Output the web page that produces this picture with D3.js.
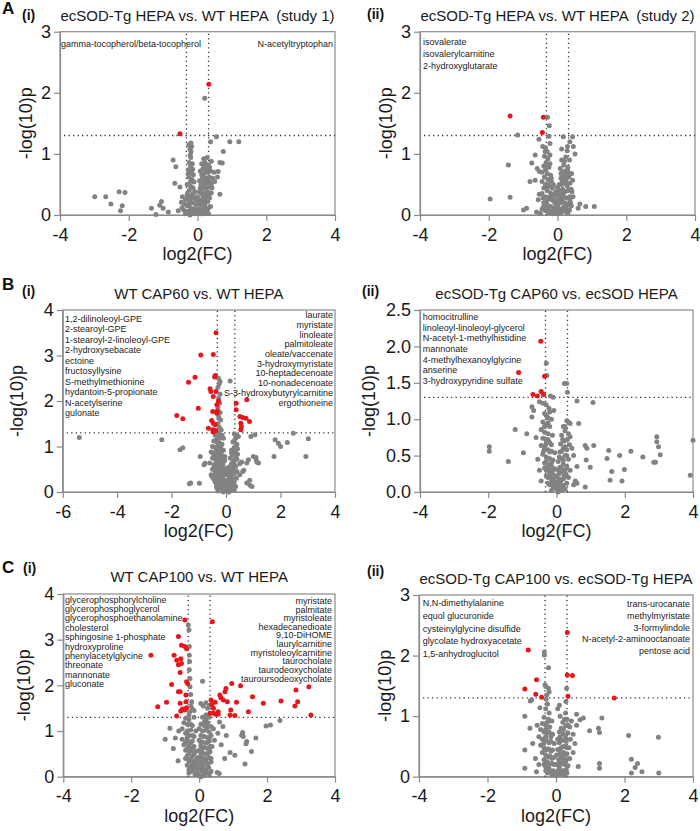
<!DOCTYPE html>
<html><head><meta charset="utf-8">
<script src="https://cdn.jsdelivr.net/npm/d3@7"></script>
<style>body{margin:0;background:#fff}</style>
</head><body>
<script>
// ---------------- DATA ----------------
const titles = ["ecSOD-Tg HEPA vs. WT HEPA  (study 1)","ecSOD-Tg HEPA vs. WT HEPA  (study 2)","WT CAP60 vs. WT HEPA","ecSOD-Tg CAP60 vs. ecSOD HEPA","WT CAP100 vs. WT HEPA","ecSOD-Tg CAP100 vs. ecSOD-Tg HEPA"];
const panelLetters = ["A","","B","","C",""];
const panelSubs = ["(i)","(ii)","(i)","(ii)","(i)","(ii)"];
const xLabel = "log2(FC)";
const yLabel = "-log(10)p";
const xTicks4 = [-4,-2,0,2,4];
const xTicks6 = [-6,-4,-2,0,2,4];
const yTicks3 = [0,1,2,3];
const yTicks4 = [0,1,2,3,4];
const yTicks25 = [0,0.5,1,1.5,2,2.5];
const fcCut = [-0.322, 0.322];
const pCut = 1.301;

const aiGray = [[0.21,1.91],[-0.19,1.18],[-0.17,1.12],[-0.19,1.04],[-0.21,0.98],[0.55,1.28],[0.38,1.2],[0.94,1.2],[1.2,1.2],[0.75,1.04],[0.72,0.85],[0.65,0.86],[-0.71,0.9],[-0.63,0.79],[-0.66,0.52],[-0.51,0.46],[-2.99,0.3],[-2.67,0.3],[-2.52,0.18],[-2.28,0.38],[-2.11,0.37],[-2.19,0.15],[-2.24,0.07],[-1.34,0.11],[-1.21,0.01],[-1.05,0.22],[-1.1,0.16],[-1.0,0.11],[-0.85,0.05],[-0.56,0.07],[-0.47,0.21],[-0.44,0.3],[0.65,0.34],[0.6,0.71],[0.58,0.62],[0.5,0.55],
[-0.25,1.15],[-0.22,1.08],[-0.2,0.94],[-0.24,0.86],[-0.2,0.8],[-0.15,0.84],[-0.27,0.74],[-0.18,0.7],[-0.12,0.66],[-0.25,0.62],[-0.16,0.58],[-0.1,0.54],[-0.3,0.5],[-0.2,0.47],[-0.13,0.44],[-0.24,0.4],[-0.08,0.38],[-0.3,0.34],[-0.18,0.32],[-0.1,0.28],[-0.35,0.25],[-0.22,0.22],[-0.14,0.2],[-0.05,0.17],[-0.3,0.15],[-0.2,0.12],[-0.1,0.1],[-0.4,0.08],[-0.28,0.06],[-0.15,0.04],[-0.05,0.02],[-0.35,0.02],[-0.22,0.0],
[0.0,0.05],[0.05,0.1],[0.02,0.18],[0.08,0.24],[0.0,0.3],[0.05,0.38],[0.1,0.02],[0.15,0.07],[0.2,0.12],[0.25,0.04],[0.3,0.1],[0.32,0.02],[0.12,0.16],[0.22,0.2],[0.3,0.22],[0.16,0.28],[0.26,0.3],[0.35,0.28],
[0.12,0.34],[0.2,0.36],[0.3,0.38],[0.4,0.36],[0.14,0.42],[0.24,0.44],[0.33,0.46],[0.42,0.44],[0.1,0.5],[0.18,0.5],[0.28,0.52],[0.36,0.54],[0.15,0.58],[0.25,0.6],[0.34,0.62],[0.44,0.6],[0.12,0.66],[0.2,0.68],[0.3,0.7],[0.38,0.72],[0.16,0.76],[0.26,0.78],[0.12,0.84],[0.22,0.86],[0.32,0.82],[0.18,0.92],[0.28,0.94],[0.4,0.88],[0.08,0.72],[0.06,0.56],
[-0.3,0.28],[-0.25,0.18],[-0.18,0.08],[-0.08,0.06],[0.02,0.1],[0.08,0.06],[0.18,0.02],[0.28,0.08],[0.22,0.15],[0.1,0.2],[-0.03,0.25],[-0.12,0.35],[-0.2,0.55],[-0.27,0.67],[-0.14,0.75],[0.2,0.25],[0.32,0.33],[0.08,0.44],[0.22,0.56],[0.3,0.6],[0.14,0.63],[0.24,0.72],[0.35,0.78],[0.2,0.8],[-0.38,0.18],[-0.45,0.12],[0.38,0.14],[0.4,0.5],[0.48,0.7],[-0.22,0.28]];
const aiRed = [[0.33,2.14],[-0.51,1.33]];

const aiiGray = [[-0.29,1.6],[-0.24,1.46],[-1.16,1.31],[-0.25,1.29],[0.17,1.28],[0.44,1.28],[0.29,1.12],[-0.43,1.12],[-0.54,1.24],[-0.22,1.17],[-0.36,1.04],[-0.22,0.98],[0.51,1.0],[0.46,1.12],[0.36,1.2],[-1.43,0.82],[-0.75,0.85],[-0.59,0.76],[-0.53,0.71],[-0.65,0.98],[-0.8,0.55],[-0.65,0.57],[-1.96,0.26],[-1.38,0.29],[-0.99,0.08],[-0.9,0.11],[-0.53,0.34],[-0.56,0.25],[-0.61,0.05],[0.65,0.18],[0.6,0.11],[0.82,0.14],[1.07,0.14],[0.36,0.25],[0.44,0.57],[0.27,0.52],[0.41,0.68],
[-0.35,1.1],[-0.3,1.04],[-0.38,0.96],[-0.28,0.92],[-0.33,0.86],[-0.4,0.8],[-0.25,0.78],[-0.35,0.74],[-0.45,0.7],[-0.3,0.68],[-0.2,0.65],[-0.38,0.62],[-0.28,0.58],[-0.45,0.55],[-0.18,0.55],[-0.35,0.5],[-0.25,0.47],[-0.4,0.44],[-0.15,0.44],[-0.3,0.4],[-0.2,0.36],[-0.45,0.35],[-0.1,0.33],[-0.35,0.3],[-0.25,0.26],[-0.15,0.24],[-0.4,0.2],[-0.3,0.17],[-0.2,0.14],[-0.1,0.12],[-0.45,0.1],[-0.35,0.07],[-0.25,0.04],[-0.15,0.02],[-0.05,0.06],[-0.5,0.03],
[0,0.02],[0.05,0.08],[0.0,0.15],[0.08,0.2],[-0.05,0.22],[0.03,0.3],[0.1,0.04],[0.15,0.12],[0.2,0.06],[0.25,0.1],[0.3,0.03],[0.35,0.08],[0.12,0.25],[0.2,0.2],[0.28,0.18],[0.4,0.15],[-0.05,0.38],[0.0,0.45],
[0.1,0.32],[0.18,0.3],[0.26,0.28],[0.35,0.3],[0.45,0.3],[0.08,0.4],[0.15,0.42],[0.22,0.38],[0.3,0.4],[0.4,0.42],[0.12,0.5],[0.2,0.52],[0.28,0.48],[0.36,0.52],[0.1,0.6],[0.18,0.62],[0.25,0.58],[0.33,0.62],[0.15,0.7],[0.22,0.72],[0.08,0.76],[0.18,0.82],[0.3,0.78],[0.12,0.9],[0.24,0.95],[0.35,0.9],[0.28,1.05],[0.12,1.08],
[-0.3,0.1],[-0.2,0.06],[-0.1,0.04],[0.02,0.1],[0.12,0.08],[0.22,0.14],[0.3,0.16],[-0.4,0.14],[-0.32,0.22],[-0.22,0.3],[-0.12,0.28],[-0.02,0.34],[0.06,0.36],[0.16,0.34],[-0.28,0.5],[-0.18,0.6],[-0.32,0.78],[-0.22,0.84],[0.05,0.5],[0.14,0.56],[0.24,0.66],[0.3,0.72],[0.1,0.68],[0.2,0.88],[-0.42,0.28],[0.38,0.2],[0.42,0.38],[-0.12,0.5],[-0.08,0.2],[0.02,0.25]];
const aiiRed = [[-1.38,1.62],[-0.41,1.6],[-0.44,1.35]];

const biGray = [[-5.39,1.2],[-2.36,1.15],[-1.69,0.93],[-1.59,0.97],[-1.35,0.18],[-1.3,0.2],[-0.95,0.78],[-0.81,0.6],[-0.98,0.19],[-0.77,0.63],[-0.52,0.34],[0.15,2.44],[-0.22,2.43],[1.06,1.26],[0.91,1.22],[1.8,1.15],[2.0,1.0],[1.92,1.07],[2.25,1.09],[2.47,1.29],[3.02,1.17],[2.93,0.78],[1.76,0.78],[1.0,0.78],[1.1,0.71],[1.19,0.64],[0.82,0.71],[0.76,0.64],[0.76,0.2],[0.88,0.15],[0.61,0.45],[0.42,0.83],[0.57,0.66],[0.65,0.48],[0.87,0.26],[1.1,0.76],[1.13,0.66],[0.95,0.12],
[-0.28,2.5],[-0.25,2.38],[-0.3,2.3],[-0.22,2.15],[-0.27,2.05],[-0.24,1.95],[-0.3,1.85],[-0.22,1.75],[-0.27,1.65],[-0.2,1.58],[-0.3,1.5],[-0.24,1.42],[-0.18,1.36],[-0.3,1.3],
[-0.4,1.25],[-0.3,1.2],[-0.2,1.22],[-0.1,1.18],[-0.45,1.12],[-0.35,1.1],[-0.25,1.08],[-0.15,1.05],[-0.5,1.0],[-0.4,0.98],[-0.3,0.95],[-0.2,0.96],[-0.1,0.92],[-0.55,0.88],[-0.45,0.86],[-0.35,0.84],[-0.25,0.82],[-0.15,0.8],[-0.05,0.78],[-0.5,0.75],[-0.4,0.72],[-0.3,0.7],[-0.2,0.68],[-0.1,0.66],[-0.6,0.64],[-0.45,0.6],[-0.35,0.58],[-0.25,0.56],[-0.15,0.55],[-0.05,0.52],[-0.5,0.5],[-0.4,0.47],[-0.3,0.45],[-0.2,0.42],[-0.1,0.4],[0.0,0.38],[-0.55,0.38],[-0.45,0.35],[-0.35,0.32],[-0.25,0.3],[-0.15,0.28],[-0.05,0.26],[0.05,0.24],[-0.4,0.22],[-0.3,0.2],[-0.2,0.18],[-0.1,0.16],[0.0,0.14],[0.1,0.12],[-0.35,0.1],[-0.25,0.08],[-0.15,0.06],[-0.05,0.04],[0.05,0.06],[0.15,0.03],[-0.3,0.02],[-0.1,0.0],[0.1,0.0],[0.2,0.08],[0.25,0.15],[0.3,0.05],[0.35,0.12],[0.15,0.2],[0.22,0.26],[0.3,0.22],[0.38,0.3],[0.12,0.32],[0.2,0.38],[0.3,0.4],[0.4,0.45],[0.15,0.48],[0.25,0.52],[0.35,0.56],[0.2,0.62],[0.3,0.68],[0.4,0.72],[0.15,0.75],[0.25,0.82],[0.35,0.88],[0.2,0.92],[0.3,0.98],[0.4,1.05],[0.25,1.1],[0.35,1.18],[0.45,1.22],[0.3,1.28],[0.42,0.95],[0.5,0.62],[0.5,0.38],
[-0.35,0.15],[-0.22,0.12],[-0.08,0.1],[0.02,0.08],[0.12,0.06],[0.25,0.08],[-0.45,0.28],[-0.32,0.26],[-0.18,0.24],[0.0,0.2],[0.1,0.28],[0.2,0.32],[-0.4,0.4],[-0.25,0.38],[-0.12,0.34],[0.08,0.4],[0.25,0.45],[-0.45,0.52],[-0.3,0.52],[-0.2,0.5],[-0.08,0.48],[0.1,0.55],[0.3,0.6],[-0.35,0.65],[-0.25,0.62],[-0.12,0.6],[0.25,0.7],[0.35,0.78],[-0.45,0.8],[-0.3,0.78],[-0.2,0.75],[0.2,0.85],[0.3,0.92],[-0.35,0.9],[-0.25,0.88],[-0.15,0.9],[0.35,1.0],[-0.3,1.02],[-0.2,1.0],[0.3,1.12],[-0.35,1.15],[-0.25,1.18],[0.38,1.25],[-0.15,1.25],[-0.05,0.7],[0.05,0.45]];
const biRed = [[-0.37,3.5],[-0.93,3.01],[-0.47,3.02],[-1.14,2.52],[-1.38,2.41],[-0.4,2.56],[-0.42,2.53],[-0.59,2.27],[-0.56,2.21],[-0.37,2.21],[-0.47,2.1],[-0.28,2.0],[-0.34,1.92],[-0.32,1.78],[-1.02,1.84],[-0.49,1.77],[-0.34,1.73],[-1.81,1.68],[-1.59,1.61],[-0.53,1.57],[-0.47,1.51],[-0.4,1.48],[-0.65,1.4],[-0.49,1.37],[-0.38,1.35],[-0.47,1.32],
[0.37,1.81],[0.37,1.95],[0.76,2.03],[0.51,1.66],[0.61,1.64],[0.73,1.62],[0.86,1.55],[0.54,1.51],[0.56,1.44],[0.54,1.37]];

const biiGray = [[-0.3,1.77],[-0.28,1.6],[0.23,1.49],[0.3,1.49],[0.32,1.37],[-0.18,1.32],[0.6,1.25],[1.07,1.23],[-0.5,1.24],[-0.4,1.22],[-0.72,1.17],[-0.67,1.12],[-0.72,1.03],[0.35,0.96],[0.4,0.94],[0.65,0.94],[-1.21,0.86],[-0.87,0.8],[-0.97,0.54],[-1.41,0.42],[-1.97,0.62],[-1.97,0.56],[0.84,0.64],[0.89,0.6],[1.09,0.64],[0.87,0.44],[0.99,0.34],[1.53,0.57],[1.48,0.46],[1.85,0.5],[2.18,0.56],[2.53,0.48],[2.85,0.41],[2.9,0.41],[2.94,0.76],[2.94,0.69],[2.99,0.62],[3.04,0.51],[4.0,0.71],[3.92,0.23],[1.62,0.28],[1.57,0.16],[1.99,0.31],[1.92,0.15],[0.84,0.07],[0.6,0.12],[0.5,0.1],
[-0.3,1.2],[-0.22,1.15],[-0.35,1.08],[-0.25,1.02],[-0.15,1.0],[-0.4,0.96],[-0.3,0.92],[-0.2,0.9],[-0.45,0.86],[-0.35,0.82],[-0.25,0.8],[-0.12,0.78],[-0.4,0.74],[-0.3,0.7],[-0.2,0.68],[-0.45,0.64],[-0.35,0.6],[-0.25,0.58],[-0.15,0.56],[-0.05,0.54],[-0.4,0.52],[-0.3,0.48],[-0.2,0.46],[-0.1,0.44],[-0.35,0.4],[-0.25,0.37],[-0.15,0.35],[-0.05,0.32],[-0.3,0.3],[-0.2,0.26],[-0.1,0.24],[0.0,0.22],[-0.25,0.2],[-0.15,0.17],[-0.05,0.14],[0.05,0.12],[-0.2,0.1],[-0.1,0.07],[0.0,0.04],[0.1,0.06],[-0.15,0.02],[0.05,0.0],[0.15,0.02],[0.2,0.09],[0.25,0.04],[0.12,0.15],[0.2,0.18],[0.3,0.12],[0.08,0.25],[0.18,0.28],[0.28,0.24],[0.35,0.2],[0.1,0.34],[0.2,0.38],[0.3,0.35],[0.05,0.42],[0.15,0.46],[0.25,0.5],[0.35,0.45],[0.1,0.55],[0.2,0.6],[0.3,0.58],[0.12,0.66],[0.22,0.7],[0.32,0.72],[0.15,0.78],[0.25,0.84],[0.35,0.8],[0.2,0.9],[0.3,0.98],[0.4,0.76],[0.45,0.6],[0.5,0.5],[0.4,0.3],[0.55,0.15],[0.6,0.35],[-0.5,0.3],[-0.45,0.15],[-0.55,0.45],[-0.6,0.75],[-0.08,1.12],[-0.1,1.3],
[-0.25,0.12],[-0.12,0.12],[0.0,0.1],[0.1,0.12],[0.18,0.06],[-0.3,0.22],[-0.18,0.22],[-0.05,0.2],[0.08,0.18],[0.22,0.22],[-0.35,0.33],[-0.22,0.32],[-0.1,0.3],[0.15,0.32],[0.25,0.3],[-0.3,0.42],[-0.15,0.4],[0.08,0.48],[0.2,0.44],[-0.38,0.56],[-0.2,0.55],[0.15,0.56],[0.25,0.62],[-0.32,0.65],[-0.15,0.65],[0.18,0.72],[-0.25,0.72],[-0.35,0.9],[-0.25,0.95],[0.25,0.9],[-0.3,1.05],[-0.2,1.1],[0.05,0.3],[0.3,0.5],[0.38,0.65]];
const biiRed = [[-0.46,2.07],[-1.11,1.64],[-0.35,1.59],[-0.45,1.38],[-0.38,1.34],[-0.69,1.34],[-0.56,1.32]];

const ciGray = [[-0.32,3.32],[-0.3,3.21],[-0.29,2.85],[-0.29,2.66],[-0.28,2.52],[-0.29,2.34],[-0.27,2.15],[-0.27,1.97],[-0.25,1.8],[-0.22,1.64],[-0.24,1.55],[-0.2,1.48],[-0.28,1.42],[0.1,2.09],[0.05,1.6],[0.12,1.55],[0.2,1.62],[0.25,1.5],[-0.15,1.45],[0.3,1.56],
[-0.4,1.28],[-0.3,1.25],[-0.15,1.3],[0.1,1.3],[0.2,1.25],[0.3,1.3],[-0.45,1.18],[-0.35,1.15],[-0.2,1.12],[0.05,1.15],[0.15,1.12],[0.25,1.18],[0.35,1.1],[-0.5,1.05],[-0.25,1.02],[-0.1,1.0],[0.1,1.0],[0.2,1.02],[0.3,0.98],[0.42,1.05],[-0.4,0.95],[-0.3,0.9],[-0.15,0.88],[0.05,0.9],[0.15,0.88],[0.25,0.86],[0.35,0.9],[-0.5,0.82],[-0.35,0.8],[-0.2,0.78],[0.0,0.8],[0.1,0.76],[0.2,0.74],[0.3,0.78],[0.45,0.8],[-0.45,0.7],[-0.3,0.68],[-0.15,0.66],[0.05,0.68],[0.15,0.64],[0.25,0.62],[0.38,0.66],[-0.4,0.58],[-0.25,0.56],[-0.1,0.55],[0.0,0.58],[0.1,0.52],[0.2,0.5],[0.32,0.55],[-0.35,0.46],[-0.2,0.44],[-0.05,0.42],[0.05,0.45],[0.15,0.4],[0.28,0.42],[-0.3,0.34],[-0.15,0.32],[0.0,0.3],[0.1,0.34],[0.22,0.3],[0.35,0.32],[-0.25,0.22],[-0.1,0.2],[0.05,0.22],[0.15,0.18],[0.28,0.2],[-0.2,0.12],[-0.05,0.1],[0.1,0.1],[0.22,0.08],[-0.12,0.04],[0.0,0.02],[0.15,0.03],[0.3,0.06],[-0.3,0.08],[0.05,0.0],
[2.1,1.13],[2.38,1.23],[1.97,1.11],[1.28,0.97],[1.25,0.91],[1.3,0.88],[1.67,0.85],[1.4,0.77],[1.38,0.72],[1.54,0.55],[1.35,0.28],[1.05,0.47],[0.91,0.53],[0.53,0.09],[0.59,0.07],[-0.86,1.06],[-1.0,0.82],[-0.76,0.62],[-0.62,0.35],[-0.7,0.85],[-0.6,1.0],[0.6,1.2],[0.7,1.1],[0.55,0.95],[0.65,0.7],[0.8,0.9],[0.75,0.4],
[-0.3,0.15],[-0.18,0.18],[-0.05,0.16],[0.08,0.15],[0.2,0.14],[0.35,0.12],[-0.35,0.25],[-0.2,0.28],[-0.08,0.26],[0.1,0.26],[0.25,0.26],[-0.4,0.4],[-0.25,0.38],[-0.1,0.36],[0.05,0.36],[0.2,0.36],[0.35,0.4],[-0.3,0.52],[-0.15,0.5],[0.05,0.52],[0.25,0.5],[-0.35,0.62],[-0.2,0.62],[0.1,0.62],[0.3,0.65],[-0.4,0.75],[-0.25,0.74],[0.05,0.74],[0.25,0.76],[-0.35,0.86],[-0.2,0.9],[0.1,0.88],[0.3,0.86],[-0.35,1.0],[0.0,1.05],[0.25,1.08],[-0.25,1.15],[0.15,1.2],[-0.3,1.35],[0.2,1.35]];
const ciRed = [[-0.42,3.43],[-0.61,3.07],[-0.42,2.85],[-0.52,2.88],[-0.37,2.8],[-1.42,2.66],[-0.74,2.66],[-0.66,2.55],[-0.54,2.58],[-0.52,2.48],[-0.61,2.45],[-0.56,2.28],[-0.37,2.08],[-0.34,2.04],[-0.81,2.02],[-0.56,1.86],[-0.61,1.86],[-0.39,1.79],[-0.96,1.63],[-0.56,1.61],[-0.39,1.64],[-1.22,1.53],[-0.49,1.48],[-0.54,1.44],[-0.42,1.46],[-0.37,1.51],[-0.66,1.33],
[0.39,3.39],[0.35,1.68],[0.37,1.58],[0.47,1.63],[0.61,1.79],[0.64,1.73],[0.76,1.86],[0.79,1.93],[0.96,2.04],[0.71,1.68],[0.83,1.64],[1.1,1.63],[1.22,1.99],[1.57,1.75],[1.89,1.61],[2.41,1.66],[2.85,1.9],[3.23,1.97],[2.9,1.64],[2.82,1.55],[3.29,1.35],[1.45,1.42],[0.93,1.46],[0.56,1.42],[0.32,1.39],[0.42,1.39],[0.5,1.37],[0.56,1.37],[0.91,1.35],[1.05,1.34],[0.42,1.5]];

const ciiGray = [[-0.34,2.06],[-0.34,2.01],[-0.22,1.8],[-0.32,1.52],[-0.3,1.49],[-0.22,1.46],[-0.2,1.4],[-0.27,1.35],[-0.29,1.28],[-0.71,1.27],[-0.75,1.25],[0.31,1.46],[0.29,1.24],[-0.91,1.0],[-0.47,1.14],[0.1,1.18],[0.6,1.03],[0.8,0.97],[0.7,0.94],[0.98,0.76],[1.24,0.8],[1.27,0.73],[1.34,0.97],[2.12,0.68],[2.99,0.65],[-0.91,0.44],[-0.76,0.8],[-0.68,0.55],[-0.91,0.14],[-0.57,0.08],[0.65,0.17],[1.27,0.22],[1.27,0.14],[2.2,0.29],[2.31,0.15],[2.38,0.22],[2.2,0.06],[2.51,0.08],[3.0,0.06],
[-0.25,1.2],[-0.3,1.12],[-0.2,1.05],[-0.35,0.98],[-0.22,0.95],[-0.12,0.92],[-0.4,0.88],[-0.3,0.85],[-0.18,0.82],[-0.45,0.78],[-0.35,0.74],[-0.25,0.72],[-0.1,0.7],[-0.5,0.66],[-0.4,0.62],[-0.28,0.6],[-0.15,0.58],[-0.05,0.55],[-0.45,0.52],[-0.35,0.48],[-0.22,0.46],[-0.1,0.44],[-0.4,0.4],[-0.3,0.36],[-0.18,0.34],[-0.05,0.32],[-0.35,0.28],[-0.25,0.24],[-0.12,0.22],[0.0,0.2],[-0.3,0.16],[-0.2,0.13],[-0.08,0.1],[0.05,0.08],[-0.25,0.06],[-0.12,0.03],[0.0,0.02],[0.12,0.04],[0.2,0.1],[0.1,0.15],[0.25,0.03],[0.3,0.12],[0.15,0.22],[0.25,0.2],[0.35,0.18],[0.08,0.28],[0.2,0.3],[0.3,0.28],[0.4,0.3],[0.12,0.38],[0.22,0.4],[0.32,0.38],[0.05,0.45],[0.15,0.48],[0.25,0.5],[0.38,0.48],[0.1,0.56],[0.2,0.6],[0.3,0.58],[0.42,0.62],[0.12,0.66],[0.22,0.7],[0.35,0.72],[0.15,0.8],[0.28,0.84],[0.4,0.82],[0.2,0.9],[0.32,0.95],[0.45,0.92],[0.28,1.05],[0.12,1.0],[0.5,0.7],[0.55,0.55],[0.5,0.4],[0.6,0.85],[-0.6,0.3],[-0.5,0.2],[-0.55,0.85],[0.05,1.12],
[-0.3,0.1],[-0.18,0.08],[-0.05,0.06],[0.08,0.12],[0.18,0.06],[0.32,0.06],[-0.35,0.2],[-0.2,0.2],[-0.05,0.2],[0.1,0.22],[0.22,0.24],[-0.25,0.32],[-0.12,0.3],[0.02,0.36],[0.15,0.34],[0.28,0.36],[-0.3,0.44],[-0.15,0.42],[0.1,0.44],[0.22,0.5],[0.32,0.48],[-0.35,0.56],[-0.2,0.56],[0.05,0.62],[0.15,0.6],[0.28,0.64],[-0.3,0.66],[-0.15,0.66],[0.1,0.74],[0.22,0.78],[-0.3,0.78],[-0.2,0.74],[0.35,0.85],[-0.25,0.9],[0.25,0.95]];
const ciiRed = [[-0.81,2.09],[0.33,2.38],[0.33,1.68],[0.48,1.67],[-0.57,1.6],[-0.91,1.45],[-0.59,1.36],[-0.42,1.31],[0.35,1.33],[1.7,1.3]];

const aiLeft = ["gamma-tocopherol/beta-tocopherol"];
const aiRight = ["N-acetyltryptophan"];
const aiiLeft = ["isovalerate","isovalerylcarnitine","2-hydroxyglutarate"];
const aiiRight = [];
const biLeft = ["1,2-dilinoleoyl-GPE","2-stearoyl-GPE","1-stearoyl-2-linoleoyl-GPE","2-hydroxysebacate","ectoine","fructosyllysine","S-methylmethionine","hydantoin-5-propionate","N-acetylserine","gulonate"];
const biRight = ["laurate","myristate","linoleate","palmitoleate","oleate/vaccenate","3-hydroxymyristate","10-heptadecenoate","10-nonadecenoate","S-3-hydroxybutyrylcarnitine","ergothioneine"];
const biiLeft = ["homocitrulline","linoleoyl-linoleoyl-glycerol","N-acetyl-1-methylhistidine","mannonate","4-methylhexanoylglycine","anserine","3-hydroxypyridine sulfate"];
const biiRight = [];
const ciLeft = ["glycerophosphorylcholine","glycerophosphoglycerol","glycerophosphoethanolamine","cholesterol","sphingosine 1-phosphate","hydroxyproline","phenylacetylglycine","threonate","mannonate","gluconate"];
const ciRight = ["myristate","palmitate","myristoleate","hexadecanedioate","9,10-DiHOME","laurylcarnitine","myristoleoylcarnitine","taurocholate","taurodeoxycholate","tauroursodeoxycholate"];
const ciiLeft = ["N,N-dimethylalanine","equol glucuronide","cysteinylglycine disulfide","glycolate hydroxyacetate","1,5-anhydroglucitol"];
const ciiRight = ["trans-urocanate","methylmyristate","3-formylindole","N-acetyl-2-aminooctanoate","pentose acid"];

// ---------------- LAYOUT / STYLE ----------------
const FONT = "'Liberation Sans', Arial, Helvetica, sans-serif";
const AX = "#8a8a8a", GRAY = "#828282", RED = "#e8161c", DOT = "#333";
const R = 2.5;

const panels = [
 {gray:aiGray, red:aiRed, xt:xTicks4, yt:yTicks3, l:60, r:335, t:31.7, b:215, left:aiLeft, right:aiRight,
  lx:61, ly:46.5, ls:12, rx:333, ry:46.5, rs:12, letterX:2, letterY:13.5, subX:22, subY:19.5, titleY:20.5, ylx:25.5},
 {gray:aiiGray, red:aiiRed, xt:xTicks4, yt:yTicks3, l:420, r:695, t:31.7, b:215, left:aiiLeft, right:aiiRight,
  lx:423, ly:44.7, ls:12, rx:693, ry:44.7, rs:12, letterX:0, letterY:0, subX:367, subY:18.5, titleY:20.7, ylx:385.5},
 {gray:biGray, red:biRed, xt:xTicks6, yt:yTicks4, l:62.7, r:335, t:310, b:492, left:biLeft, right:biRight,
  lx:65, ly:321.5, ls:10.55, rx:333, ry:318.2, rs:9.7, letterX:2, letterY:290, subX:22, subY:296, titleY:299, ylx:17},
 {gray:biiGray, red:biiRed, xt:xTicks4, yt:yTicks25, l:420, r:693, t:310, b:492, left:biiLeft, right:biiRight,
  lx:422.7, ly:319.9, ls:10.67, rx:690, ry:319.9, rs:10.67, letterX:0, letterY:0, subX:362, subY:296, titleY:298.5, ylx:369},
 {gray:ciGray, red:ciRed, xt:xTicks4, yt:yTicks4, l:63.3, r:335, t:594, b:776.7, left:ciLeft, right:ciRight,
  lx:65, ly:602.5, ls:9.41, rx:332, ry:603.9, rs:8.63, letterX:2, letterY:573, subX:23, subY:573, titleY:581.7, ylx:24},
 {gray:ciiGray, red:ciiRed, xt:xTicks4, yt:yTicks3, l:419, r:693, t:595, b:776.7, left:ciiLeft, right:ciiRight,
  lx:422.7, ly:605.9, ls:12.83, rx:690, ry:607.2, rs:11.67, letterX:0, letterY:0, subX:367, subY:576, titleY:584, ylx:385}
];

const svg = d3.select("body").append("svg").attr("width",700).attr("height",831)
  .style("font-family",FONT);

panels.forEach((p,i)=>{
  const x = d3.scaleLinear().domain([p.xt[0], p.xt[p.xt.length-1]]).range([p.l,p.r]);
  const y = d3.scaleLinear().domain([p.yt[0], p.yt[p.yt.length-1]]).range([p.b,p.t]);
  const g = svg.append("g");

  g.append("rect").attr("x",p.l).attr("y",p.t).attr("width",p.r-p.l).attr("height",p.b-p.t)
    .attr("fill","none").attr("stroke",AX).attr("stroke-width",1.2);

  const yFmt = p.yt.some(v=>v%1!==0) ? d3.format(".1f") : (d=>String(d));
  const xa = g.append("g").attr("transform",`translate(0,${p.b})`)
    .call(d3.axisBottom(x).tickValues(p.xt).tickSize(6).tickSizeOuter(0).tickPadding(7).tickFormat(d=>String(d)));
  const ya = g.append("g").attr("transform",`translate(${p.l},0)`)
    .call(d3.axisLeft(y).tickValues(p.yt).tickSize(6).tickSizeOuter(0).tickPadding(3).tickFormat(yFmt));
  [xa,ya].forEach(a=>{
    a.attr("font-family",FONT).attr("font-size",18);
    a.selectAll("path,line").attr("stroke",AX).attr("stroke-width",1.2);
    a.selectAll("text").attr("fill","#1a1a1a");
  });

  fcCut.forEach(c=>{
    g.append("line").attr("x1",x(c)).attr("x2",x(c)).attr("y1",y(p.yt[0])).attr("y2",y(p.yt[p.yt.length-1]))
      .attr("stroke",DOT).attr("stroke-width",1.3).attr("stroke-dasharray","1.3,3.2");
  });
  g.append("line").attr("x1",x(p.xt[0])+4).attr("x2",x(p.xt[p.xt.length-1])).attr("y1",y(pCut)).attr("y2",y(pCut))
    .attr("stroke",DOT).attr("stroke-width",1.3).attr("stroke-dasharray","1.3,3.2");

  g.append("g").selectAll("circle").data(p.gray).join("circle")
    .attr("cx",d=>x(d[0])).attr("cy",d=>y(d[1])).attr("r",R).attr("fill",GRAY);
  g.append("g").selectAll("circle").data(p.red).join("circle")
    .attr("cx",d=>x(d[0])).attr("cy",d=>y(d[1])).attr("r",R).attr("fill",RED);

  p.left.forEach((s,k)=>{
    g.append("text").attr("x",p.lx).attr("y",p.ly+k*p.ls).attr("font-size",9).attr("fill","#222").text(s);
  });
  p.right.forEach((s,k)=>{
    g.append("text").attr("x",p.rx).attr("y",p.ry+k*p.rs).attr("font-size",9).attr("fill","#222")
      .attr("text-anchor","end").text(s);
  });

  g.append("text").attr("x",(p.l+p.r)/2).attr("y",p.titleY).attr("text-anchor","middle")
    .attr("font-size",15).attr("fill","#1a1a1a").style("white-space","pre").text(titles[i]);
  if(panelLetters[i]) g.append("text").attr("x",p.letterX).attr("y",p.letterY).attr("font-size",17)
    .attr("font-weight","bold").attr("fill","#111").text(panelLetters[i]);
  g.append("text").attr("x",p.subX).attr("y",p.subY).attr("font-size",14).attr("font-weight","bold")
    .attr("fill","#111").text(panelSubs[i]);
  g.append("text").attr("x",(p.l+p.r)/2).attr("y",p.b+45).attr("text-anchor","middle")
    .attr("font-size",18).attr("fill","#1a1a1a").text(xLabel);
  g.append("text").attr("transform",`translate(${p.ylx},${(p.t+p.b)/2}) rotate(-90)`).attr("dy","0.35em")
    .attr("text-anchor","middle").attr("font-size",18).attr("fill","#1a1a1a").text(yLabel);
});
</script>
</body></html>
